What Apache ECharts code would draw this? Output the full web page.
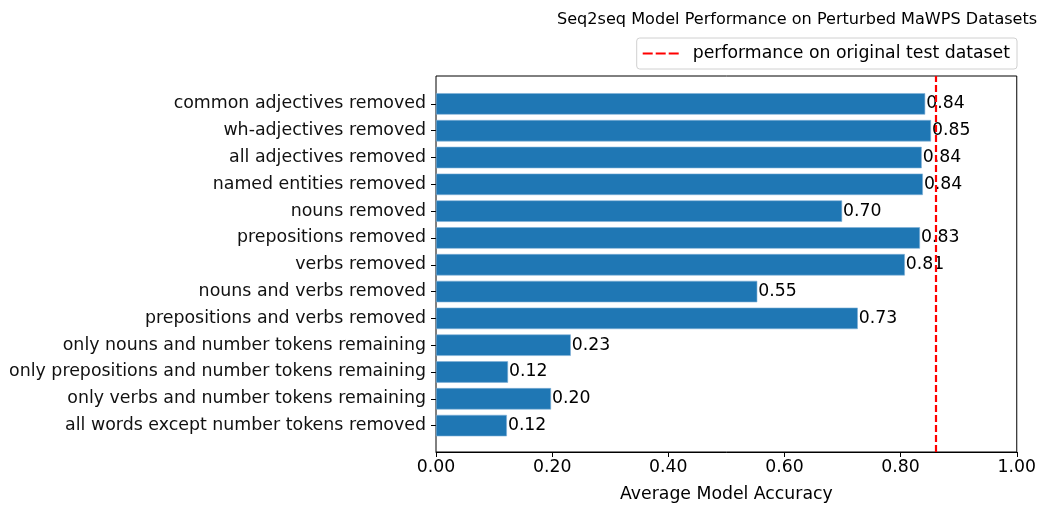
<!DOCTYPE html>
<html>
<head>
<meta charset="utf-8">
<script src="https://cdn.jsdelivr.net/npm/echarts@6/dist/echarts.min.js"></script>
<style>
  html, body { margin: 0; padding: 0; background: #fff; }
  #chart { width: 1039px; height: 508px; }
</style>
</head>
<body>
<div id="chart"></div>
<script>
// categories top to bottom
const categories = [
  'common adjectives removed',
  'wh-adjectives removed',
  'all adjectives removed',
  'named entities removed',
  'nouns removed',
  'prepositions removed',
  'verbs removed',
  'nouns and verbs removed',
  'prepositions and verbs removed',
  'only nouns and number tokens remaining',
  'only prepositions and number tokens remaining',
  'only verbs and number tokens remaining',
  'all words except number tokens removed'
]
const accuracy = [0.842, 0.852, 0.836, 0.838, 0.699, 0.833, 0.807, 0.553, 0.726, 0.232, 0.124, 0.198, 0.122]
const baseline = 0.856
const xTicks = [0, 0.2, 0.4, 0.6, 0.8, 1.0]

const font = 'DejaVu Sans'
const fs = 17.3
const chart = echarts.init(document.getElementById('chart'))

chart.setOption({
  animation: false,
  textStyle: { fontFamily: font },
  title: {
    text: 'Seq2seq Model Performance on Perturbed MaWPS Datasets',
    left: 552,
    top: 7,
    textStyle: { fontFamily: font, fontWeight: 'normal', fontSize: 16.1, color: '#000' }
  },
  legend: {
    data: [{ name: 'performance on original test dataset', icon: 'path://M0,0h10v2h-10z M13,0h10v2h-10z M26,0h10v2h-10z' }],
    right: 22,
    top: 38,
    padding: [7, 7, 7, 6],
    borderColor: '#d0d0d0',
    borderWidth: 1,
    borderRadius: 3,
    itemWidth: 36,
    itemHeight: 2,
    itemGap: 10,
    itemStyle: { color: '#ff0000' },
    textStyle: { fontFamily: font, fontSize: fs, color: '#000', padding: [0, 0, 0, 9] }
  },
  grid: [
    // frame + x axis
    { left: 436, right: 22, top: 76, bottom: 55, show: true, borderColor: '#000', borderWidth: 1, containLabel: false },
    // band area for the bars (matplotlib margins)
    { left: 436, right: 22, top: 90.5, bottom: 69, containLabel: false }
  ],
  xAxis: [
    {
      gridIndex: 0, type: 'value', min: 0, max: 1, interval: 0.2,
      name: 'Average Model Accuracy', nameLocation: 'middle', nameGap: 34,
      nameTextStyle: { fontFamily: font, fontSize: fs, color: '#000' },
      axisLine: { show: true, lineStyle: { color: '#000' } },
      axisTick: { show: true, length: 5, inside: false, lineStyle: { color: '#000' } },
      axisLabel: { fontFamily: font, fontSize: fs, color: '#000', margin: 7,
        formatter: v => xTicks.some(t => Math.abs(t - v) < 1e-9) ? v.toFixed(2) : '' },
      splitLine: { show: false }
    },
    {
      gridIndex: 1, type: 'value', min: 0, max: 1, show: false
    }
  ],
  yAxis: [
    { gridIndex: 0, type: 'value', min: 0, max: 1, show: false },
    {
      gridIndex: 1, type: 'category', data: categories, inverse: true,
      axisLine: { show: false },
      axisTick: { show: true, alignWithLabel: true, length: 5, lineStyle: { color: '#000' } },
      axisLabel: { fontFamily: font, fontSize: 17.4, color: '#111', margin: 10 },
      splitLine: { show: false }
    }
  ],
  series: [
    {
      type: 'bar',
      xAxisIndex: 1,
      yAxisIndex: 1,
      data: accuracy,
      barWidth: '80%',
      itemStyle: { color: '#1f77b4', borderColor: '#7fb0d6', borderWidth: 0.6 },
      label: {
        show: true,
        position: 'right',
        distance: 1,
        fontFamily: font,
        fontSize: fs,
        color: '#000',
        formatter: p => p.value.toFixed(2)
      }
    },
    {
      name: 'performance on original test dataset',
      type: 'line',
      xAxisIndex: 0,
      yAxisIndex: 0,
      data: [],
      symbol: 'none',
      itemStyle: { color: '#ff0000' },
      lineStyle: { color: '#ff0000', width: 2, type: [7, 3] },
      markLine: {
        silent: true,
        symbol: 'none',
        label: { show: false },
        lineStyle: { color: '#ff0000', width: 2.2, type: [7, 3] },
        data: [{ xAxis: baseline }]
      }
    }
  ]
})
</script>
</body>
</html>
